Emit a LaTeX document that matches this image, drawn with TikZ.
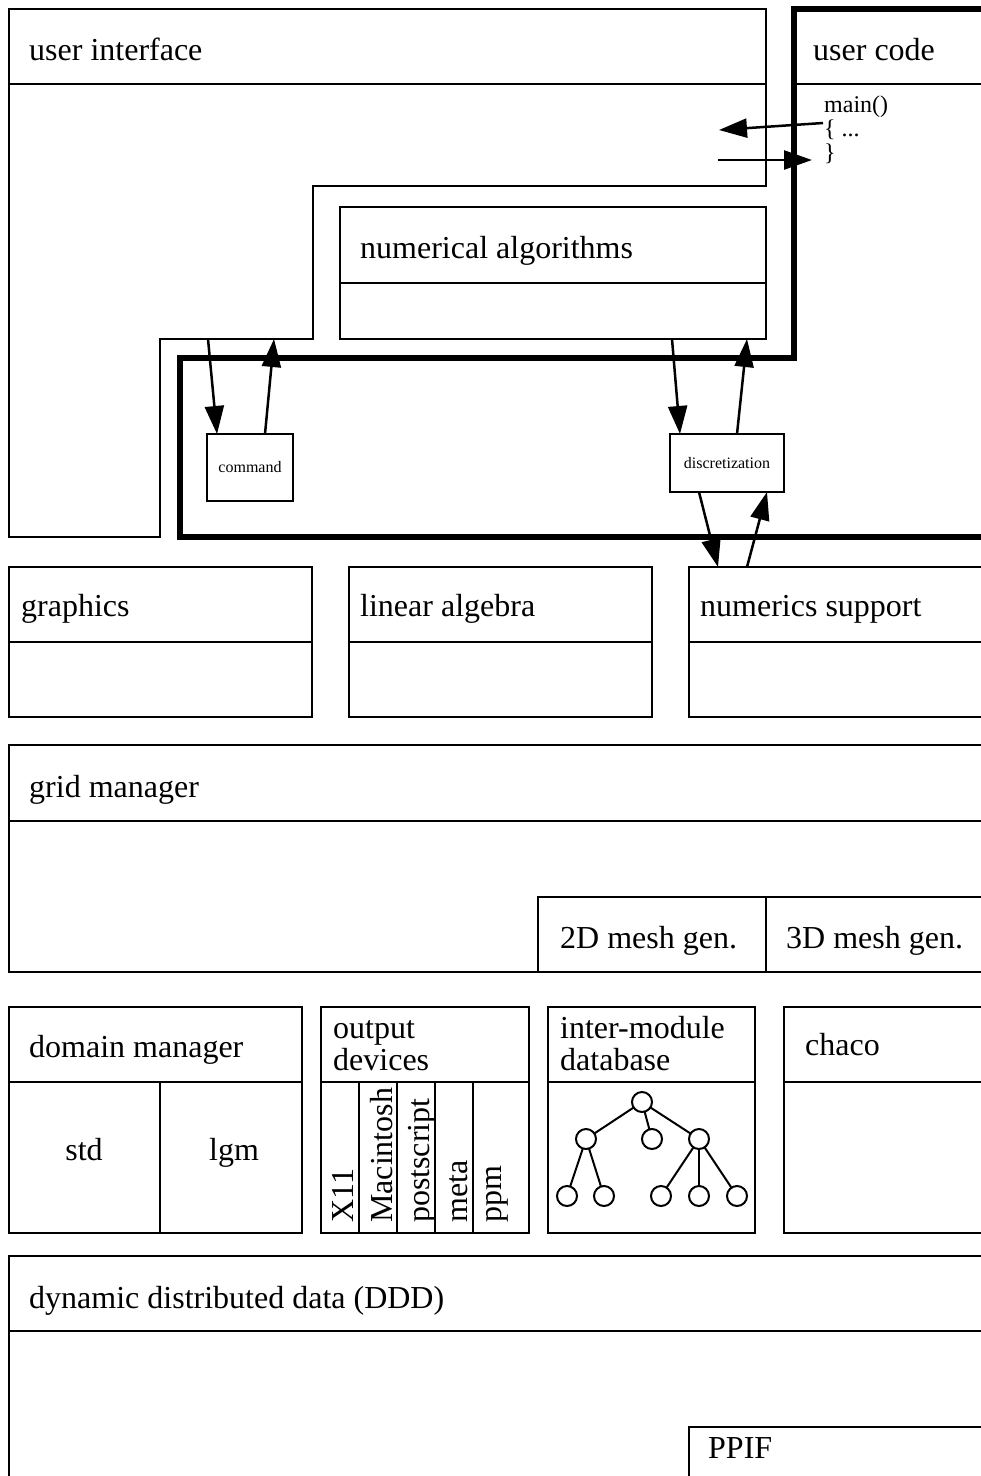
\documentclass[tikz,border=0pt]{standalone}
\usepackage{fontspec}
\setmainfont{Liberation Serif}
\usetikzlibrary{arrows.meta}
\newcommand\fbig{\fontsize{32}{32}\selectfont}
\newcommand\fmid{\fontsize{24}{24}\selectfont}
\newcommand\fsml{\fontsize{16}{16}\selectfont}
\tikzset{
  box/.style={draw, line width=2pt, inner sep=0pt, outer sep=0pt, anchor=north west},
  sbox/.style={draw, line width=2pt, inner sep=0pt, outer sep=0pt, font=\fsml},
  lbl/.style={anchor=base west, inner sep=0pt, font=\fbig},
  rot/.style={rotate=90, anchor=base west, inner sep=0pt, font=\fbig},
  thinline/.style={line width=2pt},
  frame/.style={line width=6.5pt, line join=miter},
  arr/.style={line width=2.5pt, -{Triangle[length=28pt,width=19pt]}},
  leaf/.style={draw, circle, line width=2pt, minimum size=20pt, inner sep=0pt, outer sep=0pt},
}
\begin{document}
\begin{tikzpicture}[x=1pt,y=-1pt]
\useasboundingbox (0,0) rectangle (981,1476);
\clip (0,0) rectangle (981,1476);
\fill[white] (0,0) rectangle (981,1476);

% user interface
\draw[thinline, line join=miter] (9,9) -- (766,9) -- (766,186) -- (313,186) -- (313,339)
  -- (160,339) -- (160,537) -- (9,537) -- cycle;
\draw[thinline] (9,84) -- (766,84);
\node[lbl] (uil) at (29,60) {user interface};

% user code
\draw[frame] (1000,9) -- (794,9) -- (794,358) -- (180,358) -- (180,537) -- (1000,537);
\draw[thinline] (797,84) -- (1000,84);
\node[lbl] (ucl) at (813,60) {user code};
\node[anchor=base west, inner sep=0pt, font=\fmid, align=left] (mainl) at (824,160)
  {main()\\\{ ...\\\}};

% numerical algorithms
\node[box, minimum width=426pt, minimum height=132pt] (num) at (340,207) {};
\draw[thinline] (340,283) -- (766,283);
\node[lbl] (numl) at (360,258) {numerical algorithms};

% command and discretization
\node[sbox, minimum width=86pt, minimum height=67pt] (cmd) at (250,467.5) {command};
\node[sbox, minimum width=114pt, minimum height=58pt] (disc) at (727,463) {discretization};

% row 2
\node[box, minimum width=303pt, minimum height=150pt] (gfx) at (9,567) {};
\node[box, minimum width=303pt, minimum height=150pt] (lin) at (349,567) {};
\node[box, minimum width=400pt, minimum height=150pt] (ns) at (689,567) {};
\draw[thinline] (9,642) -- (312,642);
\draw[thinline] (349,642) -- (652,642);
\draw[thinline] (689,642) -- (1000,642);
\node[lbl] (gfxl) at (21,616) {graphics};
\node[lbl] (linl) at (360,616) {linear algebra};
\node[lbl] (nsl) at (700,616) {numerics support};

% arrows
\coordinate (mo) at (823,123);
\coordinate (ui1) at (719,130);
\coordinate (ui2) at (718,160);
\coordinate (ci) at (812,160);
\draw[arr] (mo) -- (ui1);
\draw[arr] (ui2) -- (ci);
\coordinate (uc1) at (208,339);
\coordinate (uc2) at (274,339);
\draw[arr] (uc1) -- ([xshift=10pt]cmd.north west);
\draw[arr] ([xshift=58pt]cmd.north west) -- (uc2);
\draw[arr] ([xshift=332pt]num.south west) -- ([xshift=10pt]disc.north west);
\draw[arr] ([xshift=67pt]disc.north west) -- ([xshift=407pt]num.south west);
\draw[arr] ([xshift=29pt]disc.south west) -- ([xshift=29pt]ns.north west);
\draw[arr] ([xshift=58pt]ns.north west) -- ([xshift=97pt]disc.south west);

% grid manager
\node[box, minimum width=1000pt, minimum height=227pt] (grid) at (9,745) {};
\draw[thinline] (9,821) -- (1009,821);
\node[lbl] (gridl) at (29,797) {grid manager};
\node[box, minimum width=228pt, minimum height=75pt] (m2) at (538,897) {};
\node[box, minimum width=300pt, minimum height=75pt] (m3) at (766,897) {};
\node[lbl] (m2l) at (560,948) {2D mesh gen.};
\node[lbl] (m3l) at (786,948) {3D mesh gen.};

% domain manager
\node[box, minimum width=293pt, minimum height=226pt] (dom) at (9,1007) {};
\draw[thinline] (9,1082) -- (302,1082);
\draw[thinline] (160,1082) -- (160,1233);
\node[lbl] (doml) at (29,1057) {domain manager};
\node[anchor=base, inner sep=0pt, font=\fbig] (std) at (84,1160) {std};
\node[anchor=base, inner sep=0pt, font=\fbig] (lgm) at (234,1160) {lgm};

% output devices
\node[box, minimum width=208pt, minimum height=226pt] (out) at (321,1007) {};
\draw[thinline] (321,1082) -- (529,1082);
\foreach \xx in {359,397,435,473} \draw[thinline] (\xx,1082) -- (\xx,1233);
\node[anchor=base west, inner sep=0pt, font=\fbig, align=left] (outl) at (333,1070) {output\\devices};
\node[rot] (x11) at (353,1223) {X11};
\node[rot] (mac) at (392,1223) {Macintosh};
\node[rot] (ps) at (429,1223) {postscript};
\node[rot] (meta) at (467,1223) {meta};
\node[rot] (ppm) at (501,1223) {ppm};

% inter-module database
\node[box, minimum width=207pt, minimum height=226pt] (db) at (548,1007) {};
\draw[thinline] (548,1082) -- (755,1082);
\node[anchor=base west, inner sep=0pt, font=\fbig, align=left] (dbl) at (560,1070) {inter-module\\database};
\node[leaf] (t0) at (642,1102) {};
\node[leaf] (t1) at (586,1139) {};
\node[leaf] (t2) at (652,1139) {};
\node[leaf] (t3) at (699,1139) {};
\node[leaf] (t4) at (567,1196) {};
\node[leaf] (t5) at (604,1196) {};
\node[leaf] (t6) at (661,1196) {};
\node[leaf] (t7) at (699,1196) {};
\node[leaf] (t8) at (737,1196) {};
\foreach \a/\b in {t0/t1,t0/t2,t0/t3,t1/t4,t1/t5,t3/t6,t3/t7,t3/t8}
  \draw[thinline] (\a) -- (\b);

% chaco
\node[box, minimum width=300pt, minimum height=226pt] (chaco) at (784,1007) {};
\draw[thinline] (784,1082) -- (1000,1082);
\node[lbl] (chacol) at (805,1055) {chaco};

% DDD
\node[box, minimum width=1000pt, minimum height=400pt] (ddd) at (9,1256) {};
\draw[thinline] (9,1331) -- (1009,1331);
\node[lbl] (dddl) at (29,1308) {dynamic distributed data (DDD)};
\node[box, minimum width=400pt, minimum height=200pt] (ppif) at (689,1427) {};
\node[lbl] (ppifl) at (708,1458) {PPIF};
\end{tikzpicture}
\end{document}
